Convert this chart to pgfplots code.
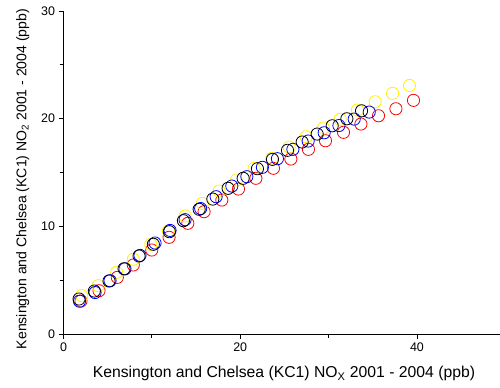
\documentclass[border=0pt]{standalone}
\usepackage{pgfplots}
\pgfplotsset{compat=1.18}
\usepackage{fontspec}
\setmainfont{Liberation Sans}
\begin{document}
\begin{tikzpicture}
\begin{axis}[
  scale only axis,
  width=436.5bp, height=323bp,
  xmin=0, xmax=49.4, ymin=0, ymax=30,
  axis x line*=bottom, axis y line*=left,
  axis line style={line width=0.8pt},
  xtick={0,20,40}, ytick={0,10,20,30},
  minor xtick={10,30}, minor ytick={5,15,25},
  tick align=outside,
  major tick length=5bp, minor tick length=4bp,
  tick style={line width=0.8pt, black},
  /pgf/number format/assume math mode=true,
  tick label style={font=\fontsize{12.5}{14}\selectfont},
  xlabel={Kensington and Chelsea (KC1) NO\textsubscript{X} 2001 - 2004 (ppb)},
  ylabel={Kensington and Chelsea (KC1) NO\textsubscript{2} 2001 - 2004 (ppb)},
  every axis x label/.style={at={(axis description cs:0.505,-0.1362)}, anchor=base, font=\fontsize{15.8}{18}\selectfont},
  every axis y label/.style={at={(axis description cs:-0.0848,0.48)}, rotate=90, anchor=base, font=\fontsize{14.1}{16}\selectfont},
  clip=false,
  every axis plot/.append style={only marks, mark=o, mark size=6.1bp, line width=0.8pt},
]
\addplot[red] coordinates {
(1.98,3.06) (4.02,4.02) (6.09,5.26) (7.90,6.41) (9.99,7.80) (11.95,8.98) (14.07,10.28) (15.91,11.36) (17.92,12.44) (19.80,13.46)
(21.77,14.46) (23.76,15.39) (25.73,16.25) (27.72,17.15) (29.65,17.95) (31.69,18.73) (33.66,19.50) (35.65,20.27) (37.62,20.92) (39.61,21.70)
};
\addplot[yellow] coordinates {
(2.06,3.56) (3.94,4.49) (6.02,5.73) (7.90,6.94) (9.88,8.33) (11.87,9.56) (13.76,10.96) (15.72,12.14) (17.61,13.28) (19.57,14.30)
(21.57,15.39) (23.58,16.32) (25.54,17.36) (27.46,18.32) (29.42,19.13) (31.31,19.94) (33.27,20.80) (35.27,21.57) (37.24,22.35) (39.16,23.09)
};
\addplot[blue] coordinates {
(1.81,3.05) (3.57,3.85) (5.27,4.95) (6.96,6.05) (8.66,7.30) (10.36,8.45) (12.06,9.62) (13.76,10.62) (15.52,11.65) (17.27,12.75)
(19.05,13.74) (20.75,14.61) (22.51,15.48) (24.21,16.28) (25.96,17.15) (27.69,17.92) (29.50,18.69) (31.17,19.36) (32.90,19.96) (34.60,20.61)
};
\addplot[black] coordinates {
(1.76,3.25) (3.49,3.99) (5.15,4.92) (6.85,6.06) (8.55,7.24) (10.17,8.33) (11.98,9.50) (13.57,10.52) (15.35,11.58) (16.90,12.53)
(18.63,13.53) (20.33,14.46) (21.95,15.35) (23.65,16.22) (25.35,17.06) (27.01,17.83) (28.71,18.57) (30.41,19.34) (32.07,19.99) (33.73,20.73)
};
\end{axis}
\pgfresetboundingbox
\path (current axis.south west) ++(-63.5bp,-54bp) rectangle ++(500bp,388bp);
\end{tikzpicture}
\end{document}
